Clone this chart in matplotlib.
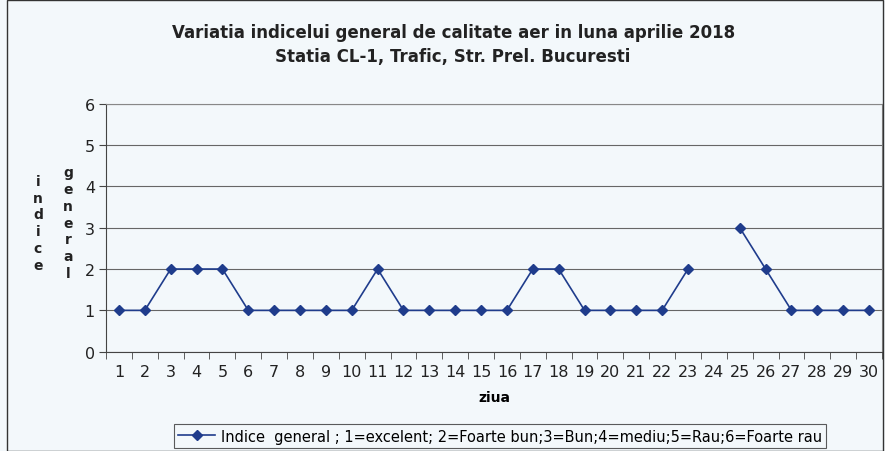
import numpy as np
import matplotlib.pyplot as plt
from matplotlib.patches import Rectangle

zile = list(range(1, 31))
indice = [1, 1, 2, 2, 2, 1, 1, 1, 1, 1,
          2, 1, 1, 1, 1, 1, 2, 2, 1, 1,
          1, 1, 2, np.nan, 3, 2, 1, 1, 1, 1]
eticheta = "Indice  general ; 1=excelent; 2=Foarte bun;3=Bun;4=mediu;5=Rau;6=Foarte rau"

plt.rcParams['font.family'] = ['DejaVu Sans']
bg = '#f3f8fb'
blue = '#1f3c8c'

fig = plt.figure(figsize=(8.85, 4.52), dpi=100, facecolor=bg)
ax = fig.add_axes([0.1198, 0.2197, 0.8768, 0.5487], facecolor=bg)

ax.plot(zile, indice, color=blue, linewidth=1.2, marker='D', markersize=5,
        markerfacecolor=blue, markeredgecolor=blue, label=eticheta)

ax.set_xlim(0.5, 30.5)
ax.set_ylim(0, 6)
ax.set_yticks(range(0, 7))
ax.set_xticks(zile)
ax.set_xticks(np.arange(0.5, 31, 1), minor=True)
ax.tick_params(axis='x', which='major', length=0, pad=9, labelsize=11.5, colors='#222222')
ax.tick_params(axis='x', which='minor', length=5, color='#444444', direction='out')
ax.tick_params(axis='y', length=5, color='#444444', labelsize=11.5, colors='#222222', pad=3)
ax.grid(axis='y', color='#666666', linewidth=0.8)
for s in ['top', 'right']:
    ax.spines[s].set_color('#888888')
    ax.spines[s].set_linewidth(0.8)
for s in ['left', 'bottom']:
    ax.spines[s].set_color('#444444')

ax.set_xlabel("ziua", fontsize=10, fontweight='bold', labelpad=8)

fig.text(0.512, 0.927, "Variatia indicelui general de calitate aer in luna aprilie 2018",
         ha='center', va='center', fontsize=12, fontweight='bold', color='#222222')
fig.text(0.512, 0.874, "Statia CL-1, Trafic, Str. Prel. Bucuresti",
         ha='center', va='center', fontsize=12, fontweight='bold', color='#222222')

fig.text(38 / 885, 0.505, "\n".join("indice"), ha='center', va='center',
         fontsize=10, fontweight='bold', linespacing=1.25, color='#222222')
fig.text(68 / 885, 0.505, "\n".join("general"), ha='center', va='center',
         fontsize=10, fontweight='bold', linespacing=1.25, color='#222222')

leg = ax.legend(loc='center', bbox_to_anchor=(0.565, 0.033), bbox_transform=fig.transFigure,
                fontsize=10.5, frameon=True, fancybox=False, edgecolor='#333333',
                facecolor=bg, borderpad=0.3, handlelength=2.5, handletextpad=0.4)
leg.get_frame().set_linewidth(0.8)

fig.patches.append(Rectangle((0.008, 0.0), 0.99, 0.998, transform=fig.transFigure,
                             fill=False, edgecolor='#333333', linewidth=1))

fig.savefig('out.png', dpi=100, facecolor=bg)
